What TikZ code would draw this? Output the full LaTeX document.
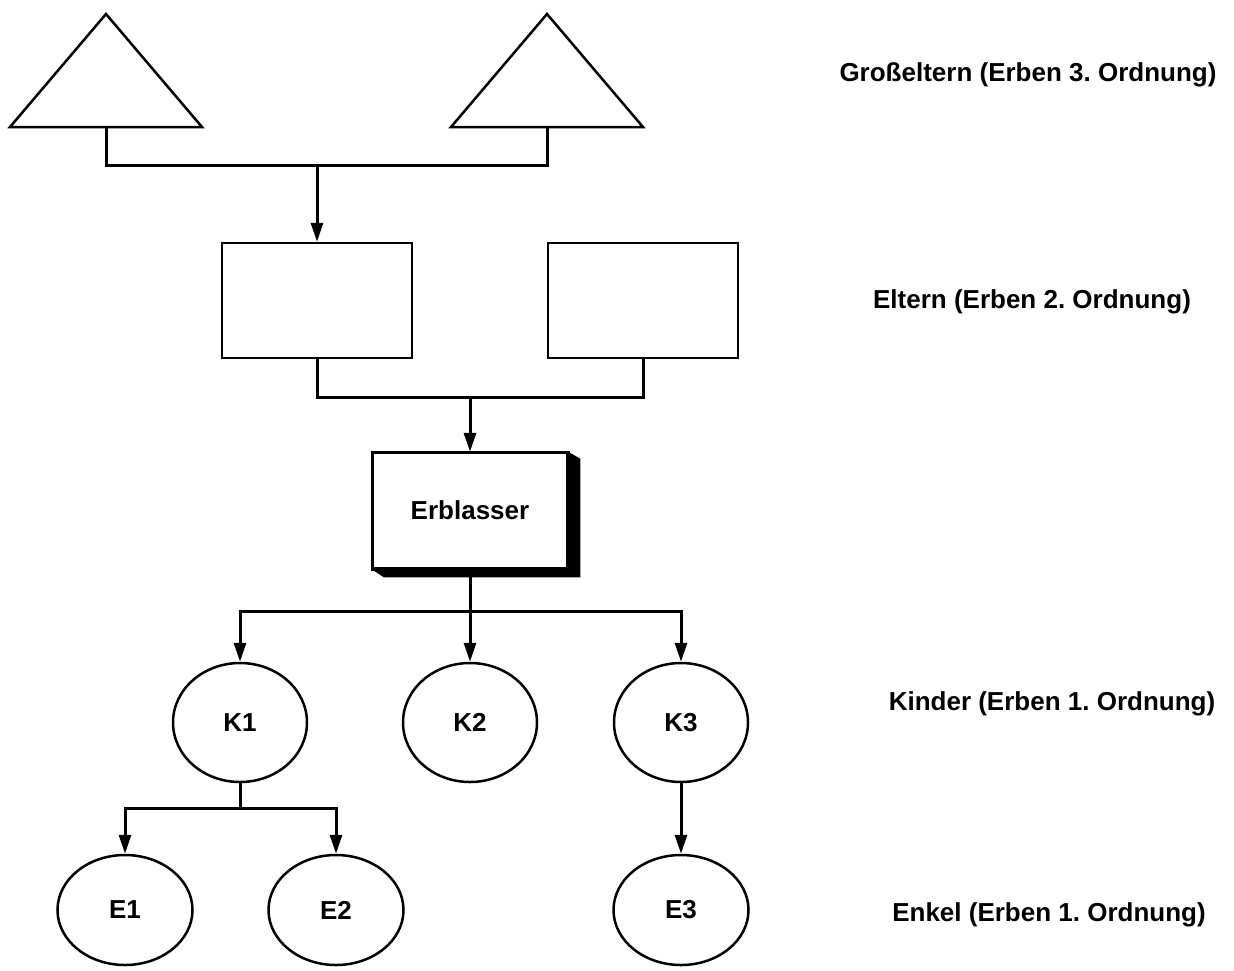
\documentclass[tikz,border=0pt]{standalone}
\usepackage{fontspec}
\setmainfont{Liberation Sans}
\frenchspacing
\usetikzlibrary{arrows.meta,shapes.geometric,calc}
\begin{document}
\begin{tikzpicture}[x=1pt,y=-1pt,
  every node/.style={font=\fontsize{26}{30}\selectfont\bfseries, inner sep=0pt},
  shapeline/.style={line width=2.5pt, line join=miter},
  conn/.style={line width=3pt},
  arr/.style={conn, -{Triangle[length=19pt,width=12pt]}},
  parentbox/.style={draw, shapeline, minimum width=190pt, minimum height=115pt},
  kidnode/.style={draw, shapeline, ellipse, minimum width=134pt, minimum height=119pt},
  grandnode/.style={draw, shapeline, ellipse, minimum width=135pt, minimum height=110pt},
  lbl/.style={anchor=center}]
\useasboundingbox (0,0) rectangle (1234,970);

% grandparents (triangles)
\coordinate (t1l) at (10,127);
\coordinate (t1a) at (106,14);
\coordinate (t1r) at (202,127);
\coordinate (t1b) at (106,127);
\coordinate (t2l) at (451,127);
\coordinate (t2a) at (547,14);
\coordinate (t2r) at (643,127);
\coordinate (t2b) at (547,127);
\draw[shapeline] (t1l) -- (t1a) -- (t1r) -- cycle;
\draw[shapeline] (t2l) -- (t2a) -- (t2r) -- cycle;

% parents
\node[parentbox] (p1) at (317,300.5) {};
\node[parentbox] (p2) at (643,300.5) {};

% Erblasser with shadow
\node[draw, shapeline, fill=white, minimum width=194pt, minimum height=115pt] (erb) at (470,510.5) {Erblasser};
\fill[black] (erb.north east) -- ($(erb.north east)+(12,7)$) -- ($(erb.south east)+(12,8)$)
  -- ($(erb.south west)+(12,8)$) -- (erb.south west) -- (erb.south east) -- cycle;
\draw[shapeline] (erb.north west) rectangle (erb.south east);

% children
\node[kidnode] (k1) at (240,722.5) {K1};
\node[kidnode] (k2) at (470,722.5) {K2};
\node[kidnode] (k3) at (681,722.5) {K3};

% grandchildren
\node[grandnode] (e1) at (125,910) {E1};
\node[grandnode] (e2) at (336,910) {E2};
\node[grandnode] (e3) at (681,910) {E3};

% connectors
\coordinate (j1) at (317,165);
\coordinate (j2) at (470,397);
\coordinate (j3) at (470,611);
\coordinate (j4) at (240,808);
\coordinate (erbbot) at (470,576);
\draw[conn] (t1b) |- (j1) -| (t2b);
\draw[arr] (j1) -- (p1.north);
\draw[conn] (p1.south) |- (j2) -| (p2.south);
\draw[arr] (j2) -- (erb.north);
\draw[conn] (erbbot) -- (j3);
\draw[arr] (j3) -| (k1.north);
\draw[arr] (j3) -| (k3.north);
\draw[arr] (j3) -- (k2.north);
\draw[conn] (k1.south) -- (j4);
\draw[arr] (j4) -| (e1.north);
\draw[arr] (j4) -| (e2.north);
\draw[arr] (k3.south) -- (e3.north);

% level labels
\node[lbl] (l1) at (1028,75) {Großeltern (Erben 3. Ordnung)};
\node[lbl] (l2) at (1032,302) {Eltern (Erben 2. Ordnung)};
\node[lbl] (l3) at (1052,704) {Kinder (Erben 1. Ordnung)};
\node[lbl] (l4) at (1049,915) {Enkel (Erben 1. Ordnung)};
\end{tikzpicture}
\end{document}
